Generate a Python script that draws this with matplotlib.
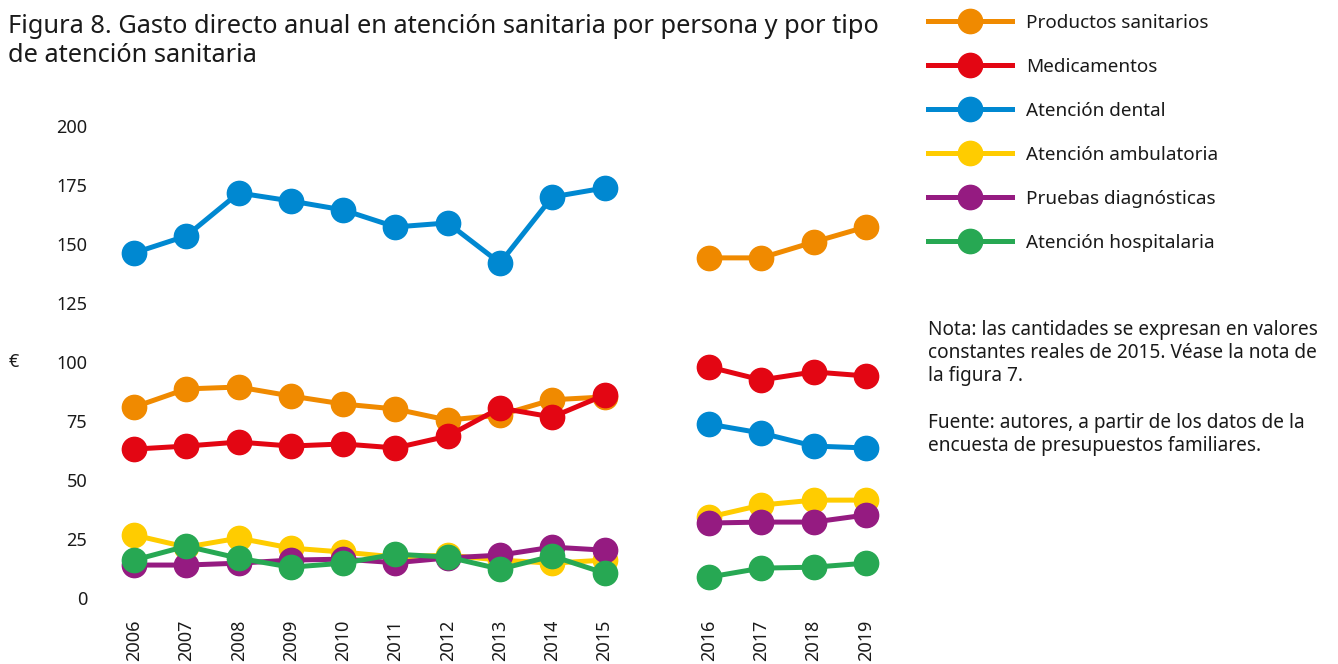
import matplotlib
matplotlib.use("Agg")
import matplotlib.pyplot as plt
from matplotlib.lines import Line2D
import numpy as np

# ---- data ----
years_a = [2006, 2007, 2008, 2009, 2010, 2011, 2012, 2013, 2014, 2015]
years_b = [2016, 2017, 2018, 2019]

series_names = ["Productos sanitarios", "Medicamentos", "Atención dental",
                "Atención ambulatoria", "Pruebas diagnósticas", "Atención hospitalaria"]
colors = ["#F08A00", "#E30613", "#0088D1", "#FFCC00", "#951B81", "#27A853"]

productos_a = [80.9, 88.6, 89.4, 85.6, 82.2, 80.1, 75.4, 77.5, 84.0, 85.2]
productos_b = [144.1, 144.1, 150.8, 157.2]
medicamentos_a = [63.1, 64.4, 66.1, 64.4, 65.3, 63.6, 68.6, 80.5, 76.7, 86.0]
medicamentos_b = [97.9, 92.4, 95.8, 94.1]
dental_a = [146.2, 153.4, 171.6, 168.2, 164.4, 157.2, 158.9, 141.9, 169.9, 173.7]
dental_b = [73.7, 69.9, 64.4, 63.6]
ambulatoria_a = [26.7, 21.6, 25.4, 21.2, 19.5, 17.4, 18.2, 16.1, 14.8, 16.1]
ambulatoria_b = [34.3, 39.4, 41.5, 41.5]
pruebas_a = [14.0, 14.0, 14.8, 16.1, 16.5, 15.0, 17.0, 18.2, 21.6, 20.3]
pruebas_b = [31.8, 32.2, 32.2, 35.2]
hospitalaria_a = [16.1, 22.0, 16.9, 13.1, 14.8, 18.6, 17.4, 12.3, 17.8, 10.6]
hospitalaria_b = [8.9, 12.7, 13.1, 14.8]

values_a = [productos_a, medicamentos_a, dental_a, ambulatoria_a, pruebas_a, hospitalaria_a]
values_b = [productos_b, medicamentos_b, dental_b, ambulatoria_b, pruebas_b, hospitalaria_b]

yticks = [0, 25, 50, 75, 100, 125, 150, 175, 200]

title = "Figura 8. Gasto directo anual en atención sanitaria por persona y por tipo\nde atención sanitaria"
note = ("Nota: las cantidades se expresan en valores\n"
        "constantes reales de 2015. Véase la nota de\n"
        "la figura 7.\n\n"
        "Fuente: autores, a partir de los datos de la\n"
        "encuesta de presupuestos familiares.")

# ---- plot ----
plt.rcParams['font.family'] = ['Noto Sans', 'DejaVu Sans']
TXT = "#1a1a1a"

fig = plt.figure(figsize=(13.38, 6.64), dpi=100)
ax = fig.add_axes([108/1338, 47/664, 784/1338, 510/664])

xa = np.arange(len(years_a))
xb = np.arange(len(years_b)) + len(years_a) + 1

lw = 3.6
ms = 17.5
for name, col, va, vb in zip(series_names, colors, values_a, values_b):
    ax.plot(xa, va, color=col, lw=lw, marker='o', ms=ms, solid_capstyle='butt')
    ax.plot(xb, vb, color=col, lw=lw, marker='o', ms=ms, solid_capstyle='butt')

ax.set_xlim(-0.5, xb[-1] + 0.5)
ax.set_ylim(-8, 208)
ax.set_yticks(yticks)
ax.set_yticklabels([str(t) for t in yticks], fontsize=13, color=TXT)
ax.set_xticks(list(xa) + list(xb))
ax.set_xticklabels([str(y) for y in years_a + years_b], rotation=90, fontsize=13, color=TXT)
ax.tick_params(axis='both', length=0)
ax.tick_params(axis='y', pad=15)
ax.tick_params(axis='x', pad=2)
for s in ax.spines.values():
    s.set_visible(False)

fig.text(8/1338, 1 - 14/664, title, ha='left', va='top', fontsize=18.25, color=TXT, linespacing=1.2)
fig.text(9/1338, 1 - 362/664, "€", ha='left', va='center', fontsize=13, color=TXT)

handles = [Line2D([0], [0], color=c, lw=lw, marker='o', ms=ms) for c in colors]
fig.legend(handles, series_names, loc='upper left', bbox_to_anchor=(928/1338, 1 - 14/664),
           frameon=False, fontsize=13.6, handlelength=4.45, handletextpad=0.74,
           labelspacing=1.375, borderpad=0, borderaxespad=0, labelcolor=TXT)

fig.text(928/1338, 1 - 320/664, note, ha='left', va='top', fontsize=13.7, color=TXT, linespacing=1.215)

fig.savefig("out.png", dpi=100)
